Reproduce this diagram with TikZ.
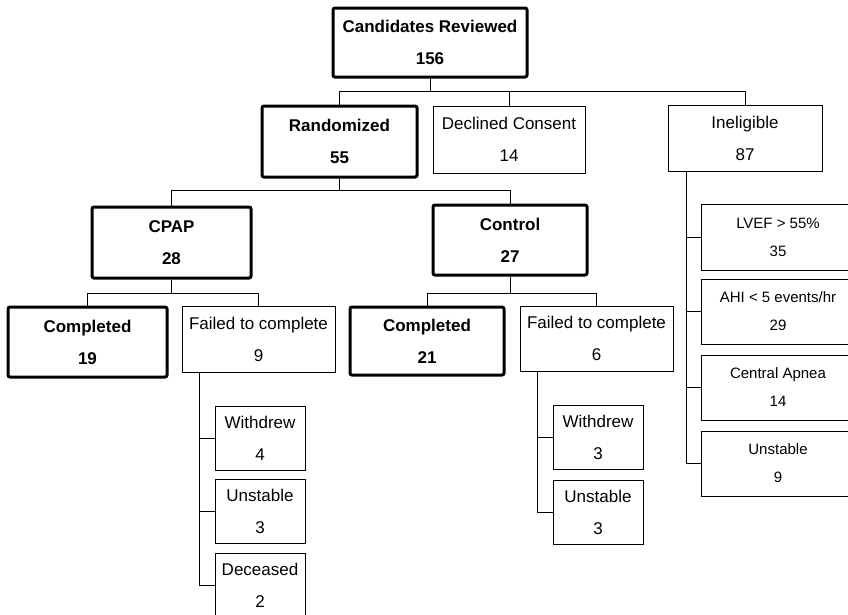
\documentclass[tikz,border=0pt]{standalone}
\usepackage{fontspec}
\setmainfont{Liberation Sans}
\usetikzlibrary{positioning}
\usetikzlibrary{calc}

\begin{document}
\begin{tikzpicture}[
  x=1pt, y=-1pt,
  box/.style={draw, line width=1pt, inner sep=0pt, align=center,
    font={\fontsize{17pt}{32pt}\selectfont}},
  mainbox/.style={box, line width=3pt, rounded corners=2pt,
    font={\fontsize{17pt}{32pt}\selectfont\bfseries}},
  smallbox/.style={box, font={\fontsize{15pt}{28pt}\selectfont}},
  link/.style={line width=1pt}
]
\clip (0,0) rectangle (848,614);

% Screening
\node[mainbox, minimum width=194pt, minimum height=69pt] (cand) at (430,42.5) {Candidates Reviewed\\156};
\node[mainbox, minimum width=155pt, minimum height=71pt] (rand) at (339.5,141.5) {Randomized\\55};
\node[box, minimum width=152pt, minimum height=67pt] (decl) at (509,139.5) {Declined Consent\\14};
\node[box, minimum width=154pt, minimum height=66pt] (inel) at (745,138) {Ineligible\\87};

% Arms
\node[mainbox, minimum width=159pt, minimum height=71pt] (cpap) at (171.5,242.5) {CPAP\\28};
\node[mainbox, minimum width=154pt, minimum height=70pt] (ctrl) at (510,240) {Control\\27};

% Outcomes
\node[mainbox, minimum width=159pt, minimum height=70pt] (comp1) at (87.5,342) {Completed\\19};
\node[box, minimum width=153pt, minimum height=66pt] (fail1) at (258.5,339) {Failed to complete\\9};
\node[mainbox, minimum width=154pt, minimum height=68pt] (comp2) at (427,341) {Completed\\21};
\node[box, minimum width=153pt, minimum height=65pt] (fail2) at (596.5,338.5) {Failed to complete\\6};

% Reasons (CPAP)
\node[box, minimum width=90pt, minimum height=64pt] (wd1) at (260,438) {Withdrew\\4};
\node[box, minimum width=90pt, minimum height=64pt] (us1) at (260,511) {Unstable\\3};
\node[box, minimum width=90pt, minimum height=64pt] (dc1) at (260,585) {Deceased\\2};

% Reasons (Control)
\node[box, minimum width=90pt, minimum height=64pt] (wd2) at (598,437) {Withdrew\\3};
\node[box, minimum width=90pt, minimum height=64pt] (us2) at (598,512) {Unstable\\3};

% Reasons (Ineligible)
\node[smallbox, minimum width=154pt, minimum height=66pt] (lvef) at (778,237) {LVEF > 55\%\\35};
\node[smallbox, minimum width=154pt, minimum height=65pt] (ahi) at (778,311.5) {AHI < 5 events/hr\\29};
\node[smallbox, minimum width=154pt, minimum height=65pt] (capn) at (778,387.5) {Central Apnea\\14};
\node[smallbox, minimum width=154pt, minimum height=65pt] (us3) at (778,463.5) {Unstable\\9};

% Bars
\coordinate (bar1) at (0,91);
\coordinate (bar2) at (0,190);
\coordinate (bar3) at (0,293);

\draw[link] (cand.south) -- (cand.south |- bar1);
\draw[link] (rand.north) |- (inel.north |- bar1) -- (inel.north);
\draw[link] (decl.north) -- (decl.north |- bar1);

\draw[link] (rand.south) -- (rand.south |- bar2);
\draw[link] (cpap.north) |- (ctrl.north |- bar2) -- (ctrl.north);

\draw[link] (cpap.south) -- (cpap.south |- bar3);
\draw[link] (comp1.north) |- (fail1.north |- bar3) -- (fail1.north);
\draw[link] (ctrl.south) -- (ctrl.south |- bar3);
\draw[link] (comp2.north) |- (fail2.north |- bar3) -- (fail2.north);

% Side branches
\coordinate (s1) at ($(fail1.south west)+(18,0)$);
\coordinate (s2) at ($(fail2.south west)+(18,0)$);
\coordinate (s3) at ($(inel.south west)+(19,0)$);
\foreach \n in {wd1,us1,dc1} \draw[link] (s1) |- (\n.west);
\foreach \n in {wd2,us2} \draw[link] (s2) |- (\n.west);
\foreach \n in {lvef,ahi,capn,us3} \draw[link] (s3) |- (\n.west);
\end{tikzpicture}
\end{document}
